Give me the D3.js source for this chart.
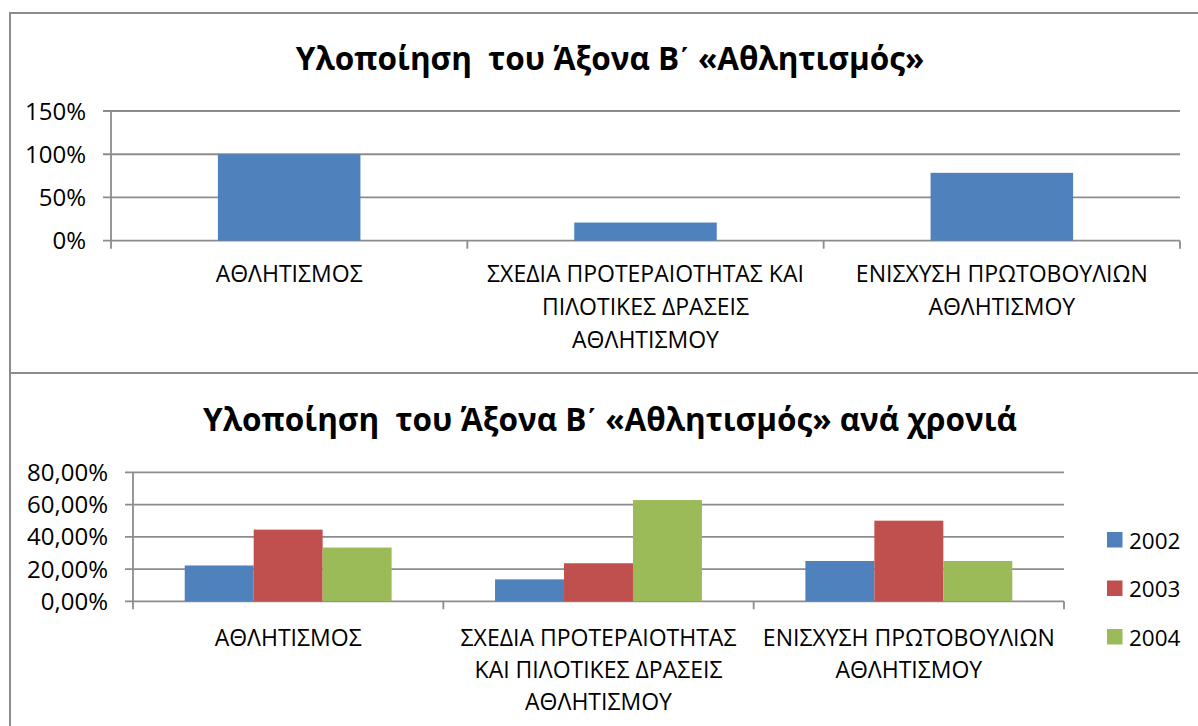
<!DOCTYPE html>
<html>
<head>
<meta charset="utf-8">
<script src="https://cdn.jsdelivr.net/npm/d3@7"></script>
<style>
    body { margin: 0; background: #fff; }
    svg { display: block; font-family: "Open Sans", "Noto Sans", sans-serif; }
</style>
</head>
<body>
<svg id="chart" width="1198" height="726"></svg>
<script>
// categories of the axis
const categories = [
    "ΑΘΛΗΤΙΣΜΟΣ",
    "ΣΧΕΔΙΑ ΠΡΟΤΕΡΑΙΟΤΗΤΑΣ ΚΑΙ ΠΙΛΟΤΙΚΕΣ ΔΡΑΣΕΙΣ ΑΘΛΗΤΙΣΜΟΥ",
    "ΕΝΙΣΧΥΣΗ ΠΡΩΤΟΒΟΥΛΙΩΝ ΑΘΛΗΤΙΣΜΟΥ"
]
// how each chart wraps the category names
const topLabelLines = [
    ["ΑΘΛΗΤΙΣΜΟΣ"],
    ["ΣΧΕΔΙΑ ΠΡΟΤΕΡΑΙΟΤΗΤΑΣ ΚΑΙ", "ΠΙΛΟΤΙΚΕΣ ΔΡΑΣΕΙΣ", "ΑΘΛΗΤΙΣΜΟΥ"],
    ["ΕΝΙΣΧΥΣΗ ΠΡΩΤΟΒΟΥΛΙΩΝ", "ΑΘΛΗΤΙΣΜΟΥ"]
]
const bottomLabelLines = [
    ["ΑΘΛΗΤΙΣΜΟΣ"],
    ["ΣΧΕΔΙΑ ΠΡΟΤΕΡΑΙΟΤΗΤΑΣ", "ΚΑΙ ΠΙΛΟΤΙΚΕΣ ΔΡΑΣΕΙΣ", "ΑΘΛΗΤΙΣΜΟΥ"],
    ["ΕΝΙΣΧΥΣΗ ΠΡΩΤΟΒΟΥΛΙΩΝ", "ΑΘΛΗΤΙΣΜΟΥ"]
]

// top chart: overall implementation
const totalValues = [1.00, 0.21, 0.785]
const totalTicks = [0, 0.5, 1, 1.5]

// bottom chart: implementation per year
const years = ["2002", "2003", "2004"]
const values2002 = [0.2222, 0.136, 0.25]
const values2003 = [0.4444, 0.236, 0.50]
const values2004 = [0.3333, 0.628, 0.25]
const yearTicks = [0, 0.2, 0.4, 0.6, 0.8]

const titleTop = "Υλοποίηση  του Άξονα Β΄ «Αθλητισμός»"
const titleBottom = "Υλοποίηση  του Άξονα Β΄ «Αθλητισμός» ανά χρονιά"

const colors = ["#4f81bd", "#c0504d", "#9bbb59"]
const gridColor = "#8c8c8c"

const svg = d3.select("#chart")

// frame lines: top, divider, left
let frame = svg.append("g").attr("stroke", gridColor).attr("stroke-width", 2)
frame.append("line").attr("x1", 9).attr("x2", 1198).attr("y1", 13).attr("y2", 13)
frame.append("line").attr("x1", 9).attr("x2", 1198).attr("y1", 373).attr("y2", 373)
frame.append("line").attr("x1", 10).attr("x2", 10).attr("y1", 12).attr("y2", 726)

function drawAxes(g, x, y, ticks, fmt, labelLines, labelY, lineGap) {
    const [x0, x1] = x.range()
    const [y0, y1] = y.range()

    g.selectAll(".grid")
        .data(ticks)
        .join("line")
        .attr("x1", x0 - 8).attr("x2", x1)
        .attr("y1", d => y(d)).attr("y2", d => y(d))
        .attr("stroke", gridColor).attr("stroke-width", 1.8)

    g.selectAll(".ylab")
        .data(ticks)
        .join("text")
        .attr("x", x0 - 25)
        .attr("y", d => y(d) + 8.5)
        .attr("text-anchor", "end")
        .style("font-size", "24px")
        .text(fmt)

    // axis line and category ticks
    g.append("line").attr("x1", x0).attr("x2", x0).attr("y1", y1).attr("y2", y0 + 8)
        .attr("stroke", gridColor).attr("stroke-width", 1.8)
    g.selectAll(".ctick")
        .data(categories)
        .join("line")
        .attr("x1", d => x(d) + x.bandwidth()).attr("x2", d => x(d) + x.bandwidth())
        .attr("y1", y0).attr("y2", y0 + 8)
        .attr("stroke", gridColor).attr("stroke-width", 1.8)

    let labels = g.selectAll(".clab")
        .data(categories)
        .join("text")
        .attr("text-anchor", "middle")
        .style("font-size", "23px")
    labels.selectAll("tspan")
        .data((d, i) => labelLines[i].map(t => ({ t: t, c: d })))
        .join("tspan")
        .attr("x", d => x(d.c) + x.bandwidth() / 2)
        .attr("y", (d, i) => labelY + i * lineGap)
        .text(d => d.t)
}

// title with the greek numeral sign kept as a spacing glyph
function drawTitle(g, text, y) {
    let t = g.append("text")
        .attr("x", 610).attr("y", y)
        .attr("text-anchor", "middle")
        .style("font-size", "31.5px").style("font-weight", "bold")
        .style("white-space", "pre")
    text.split("΄").forEach((part, i) => {
        if (i > 0) t.append("tspan").style("font-family", "Liberation Sans").text("΄")
        t.append("tspan").text(part)
    })
}

// ---- top chart
let gTop = svg.append("g")
let xTop = d3.scaleBand().domain(categories).range([111, 1180])
let yTop = d3.scaleLinear().domain([0, 1.5]).range([240.7, 111])

drawAxes(gTop, xTop, yTop, totalTicks, d => d3.format(".0%")(d), topLabelLines, 282, 33)

let topBarW = xTop.bandwidth() / 2.5
gTop.selectAll(".bar")
    .data(totalValues)
    .join("rect")
    .attr("x", (d, i) => xTop(categories[i]) + (xTop.bandwidth() - topBarW) / 2)
    .attr("width", topBarW)
    .attr("y", d => yTop(d))
    .attr("height", d => yTop(0) - yTop(d))
    .attr("fill", colors[0])

drawTitle(gTop, titleTop, 70)

// ---- bottom chart
let gBot = svg.append("g")
let xBot = d3.scaleBand().domain(categories).range([133, 1064])
let yBot = d3.scaleLinear().domain([0, 0.8]).range([601.3, 472.3])
let percentComma = d => d3.format(".2f")(d * 100).replace(".", ",") + "%"

drawAxes(gBot, xBot, yBot, yearTicks, percentComma, bottomLabelLines, 646, 31.8)

let botBarW = xBot.bandwidth() / 4.5
let xYear = d3.scaleBand().domain(years).range([0, botBarW * 3])
let series = [values2002, values2003, values2004]

gBot.selectAll(".series")
    .data(series)
    .join("g")
    .attr("fill", (d, i) => colors[i])
    .each(function (vals, si) {
        d3.select(this).selectAll("rect")
            .data(vals)
            .join("rect")
            .attr("x", (d, i) => xBot(categories[i]) + (xBot.bandwidth() - botBarW * 3) / 2 + xYear(years[si]))
            .attr("width", xYear.bandwidth())
            .attr("y", d => yBot(d))
            .attr("height", d => yBot(0) - yBot(d))
    })

drawTitle(gBot, titleBottom, 431)

// legend
let legend = gBot.selectAll(".legend")
    .data(years)
    .join("g")
    .attr("transform", (d, i) => `translate(1107, ${532 + i * 48.5})`)
legend.append("rect").attr("width", 15.5).attr("height", 15.5).attr("fill", (d, i) => colors[i])
legend.append("text").attr("x", 22).attr("y", 16.5).style("font-size", "22.5px").text(d => d)
</script>
</body>
</html>
